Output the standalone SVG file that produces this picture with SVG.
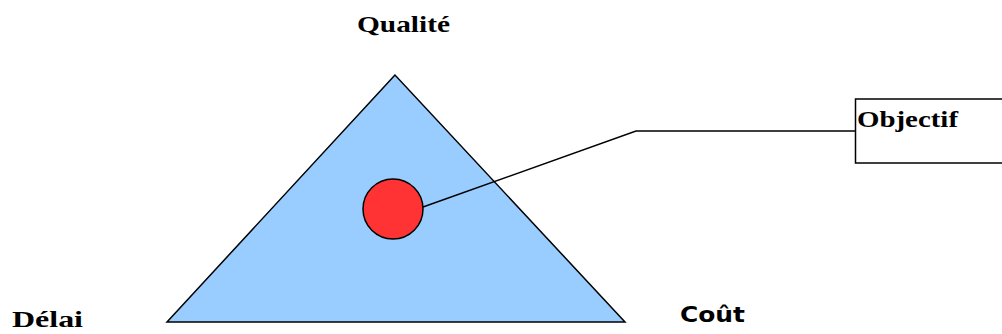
<svg xmlns="http://www.w3.org/2000/svg" width="1002" height="334" viewBox="0 0 1002 334">
<style>
.lbl{font-family:"Liberation Serif","Times New Roman",serif;font-weight:bold;font-size:23px;fill:#000}
.sans{font-family:"DejaVu Sans","Liberation Sans",sans-serif;font-weight:bold;font-size:21px;fill:#000}
.ln{fill:none;stroke:#000;stroke-width:1.5}
</style>
<rect width="1002" height="334" fill="#fff"/>
<g id="triangle">
<polygon points="395,75 167,322 625,322" fill="#99ccff" stroke="#000" stroke-width="1.5"/>
</g>
<g id="target">
<circle cx="393" cy="209" r="30" fill="#ff3333" stroke="#000" stroke-width="1.5"/>
</g>
<g id="connectors">
<polyline class="ln" points="423,207 636,131 856,131"/>
</g>
<g id="objectif">
<rect x="855.5" y="99" width="160" height="64" fill="#fff" stroke="#000" stroke-width="1.5"/>
<text class="lbl" x="857" y="127" textLength="101" lengthAdjust="spacingAndGlyphs">Objectif</text>
</g>
<g id="qualite">
<text class="lbl" x="357" y="32" textLength="93" lengthAdjust="spacingAndGlyphs">Qualité</text>
</g>
<g id="delai">
<text class="lbl" x="12" y="327" textLength="71" lengthAdjust="spacingAndGlyphs">Délai</text>
</g>
<g id="cout">
<text class="sans" x="680" y="322" textLength="65" lengthAdjust="spacingAndGlyphs">Coût</text>
</g>
</svg>
